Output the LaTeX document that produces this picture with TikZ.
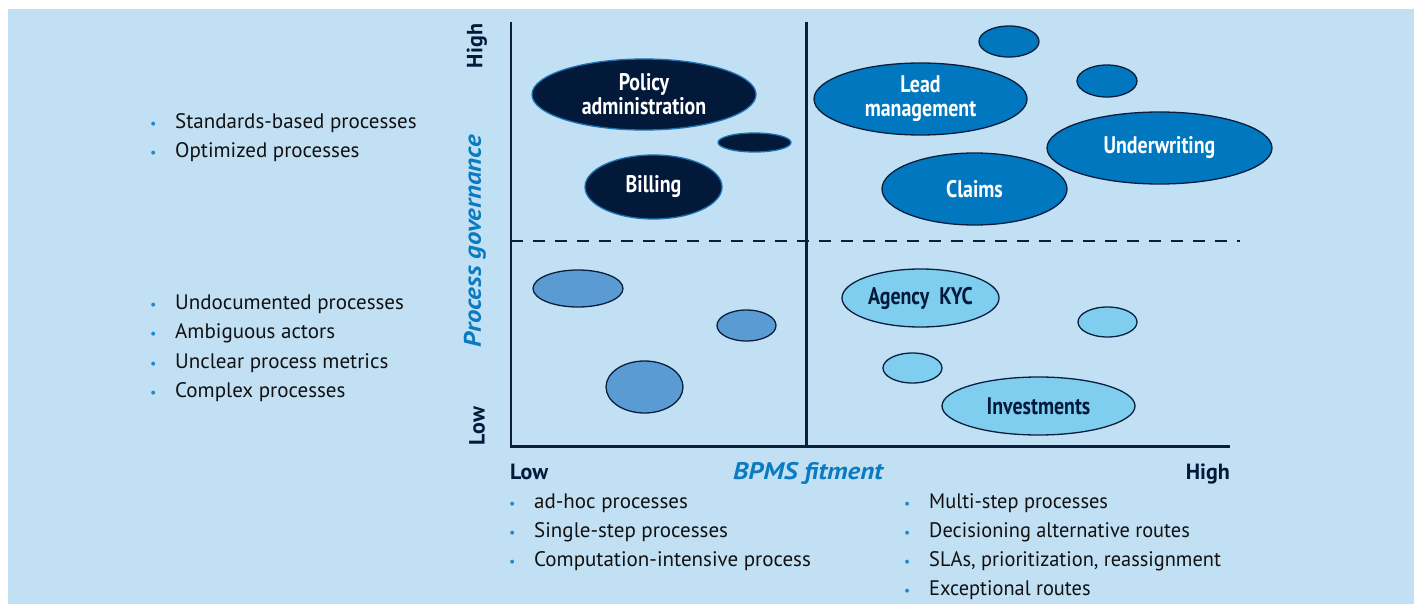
\documentclass[tikz,border=0pt]{standalone}
\usepackage{fontspec}
\setmainfont{PT Sans}
\newfontfamily\condfont{PT Sans}[FakeStretch=0.83]
\newfontfamily\widefont{PT Sans}[FakeStretch=1.12]
\newfontfamily\narrowfont{PT Sans}[FakeStretch=0.97]
\usetikzlibrary{shapes.geometric}
\definecolor{bg}{HTML}{C2E0F3}
\definecolor{navy}{HTML}{02193A}
\definecolor{navyedge}{HTML}{1A72B4}
\definecolor{midblue}{HTML}{0077BE}
\definecolor{lowblue}{HTML}{5B9BD3}
\definecolor{lightblue}{HTML}{7FCDEF}
\definecolor{edge}{HTML}{0B1E3E}
\definecolor{axisblue}{HTML}{0B7BC1}
\definecolor{dotblue}{HTML}{1E88CF}
\definecolor{txt}{HTML}{111111}
\newcommand\bul{\makebox[25pt][l]{\textcolor{dotblue}{\fontsize{14}{14}\selectfont •}}}
\begin{document}
\begin{tikzpicture}[x=1pt,y=-1pt,
  bub/.style={ellipse,draw=edge,line width=1.3pt,inner sep=0pt,text=white,
    font=\condfont\bfseries\fontsize{24}{24}\selectfont,align=center},
  pol/.style={bub,fill=navy,draw=navyedge},
  hi/.style={bub,fill=midblue},
  lo/.style={bub,fill=lowblue},
  lt/.style={bub,fill=lightblue,text=navy},
  axis/.style={draw=edge,line width=2.4pt},
  item/.style={anchor=base west,inner sep=0pt,text=txt,font=\fontsize{21}{22}\selectfont},
  itemn/.style={item,font=\narrowfont\fontsize{21}{22}\selectfont},
  axlab/.style={inner sep=0pt,text=navy,font=\bfseries\fontsize{22}{22}\selectfont},
  axtitle/.style={inner sep=0pt,text=axisblue,font=\widefont\bfseries\itshape\fontsize{24}{24}\selectfont}
]
\useasboundingbox (0,0) rectangle (1418,604);
\fill[bg] (8,9) rectangle (1414,604);

% axes
\coordinate (T) at (510.7,22);
\coordinate (O) at (510.7,446.5);
\coordinate (E) at (1230,446.5);
\coordinate (MT) at (806.5,22);
\coordinate (MB) at (806.5,446.5);
\coordinate (DL) at (510.7,240.7);
\coordinate (DR) at (1240,240.7);
\draw[draw=edge,line width=1.6pt,dash pattern=on 12pt off 10pt] (DL) -- (DR);
\draw[axis] (MT) -- (MB);
\draw[axis] (T) -- (O) -- (E);

% axis labels
\node[axlab,rotate=90] (yhigh) at (477,46) {High};
\node[axlab,rotate=90] (ylow) at (477,426) {Low};
\node[axtitle,rotate=90] (ytitle) at (475,241.5) {Process governance};
\node[axlab,anchor=base west] (xlow) at (510,479) {Low};
\node[axtitle,anchor=base west] (xtitle) at (733,479) {BPMS fitment};
\node[axlab,anchor=base east] (xhigh) at (1230,479) {High};

% ellipses: high governance, low fitment
\node[pol,minimum width=224pt,minimum height=71pt] (policy) at (644,94.5) {Policy\\administration};
\node[pol,minimum width=73pt,minimum height=19pt] (p2) at (754.5,142.5) {};
\node[pol,minimum width=137pt,minimum height=64pt] (billing) at (653.5,187) {Billing};

% high governance, high fitment
\node[hi,minimum width=213pt,minimum height=72pt] (lead) at (920.5,99) {Lead\\management};
\node[hi,minimum width=60pt,minimum height=31pt] (h1) at (1009,41.5) {};
\node[hi,minimum width=60pt,minimum height=32pt] (h2) at (1107,81) {};
\node[hi,minimum width=225pt,minimum height=72pt] (uw) at (1159.5,148) {Underwriting};
\node[hi,minimum width=185pt,minimum height=72pt] (claims) at (974.5,189) {Claims};

% low governance, low fitment
\node[lo,minimum width=90pt,minimum height=37pt] (l1) at (578,288.5) {};
\node[lo,minimum width=59pt,minimum height=31pt] (l2) at (746.5,325.5) {};
\node[lo,minimum width=77pt,minimum height=52pt] (l3) at (644.5,387) {};

% low governance, high fitment
\node[lt,minimum width=157pt,minimum height=58pt] (kyc) at (920.5,298) {Agency\ \ KYC};
\node[lt,minimum width=59pt,minimum height=30pt] (t1) at (1107.5,322) {};
\node[lt,minimum width=59pt,minimum height=30pt] (t2) at (912.5,368) {};
\node[lt,minimum width=193pt,minimum height=58pt] (inv) at (1038.5,406) {Investments};

% left bullet lists
\node[item] (a1) at (150,128.7) {\bul Standards-based processes};
\node[item] (a2) at (150,157.5) {\bul Optimized processes};
\node[item] (b1) at (150,309) {\bul Undocumented processes};
\node[item] (b2) at (150,338.5) {\bul Ambiguous actors};
\node[item] (b3) at (150,368) {\bul Unclear process metrics};
\node[item] (b4) at (150,397.5) {\bul Complex processes};

% bottom bullet lists
\node[item] (c1) at (509,508) {\bul ad-hoc processes};
\node[item] (c2) at (509,537) {\bul Single-step processes};
\node[item] (c3) at (509,566) {\bul Computation-intensive process};
\node[itemn] (d1) at (904,508) {\bul Multi-step processes};
\node[itemn] (d2) at (904,537) {\bul Decisioning alternative routes};
\node[itemn] (d3) at (904,566) {\bul SLAs, prioritization, reassignment};
\node[itemn] (d4) at (904,595) {\bul Exceptional routes};
\end{tikzpicture}
\end{document}
